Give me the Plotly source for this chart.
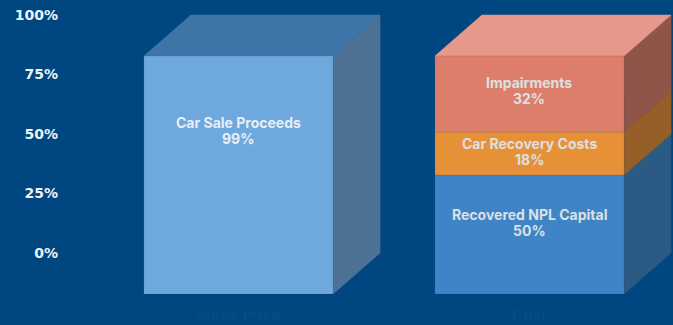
import plotly.graph_objects as go

# Stacks of the 100% chart, bottom to top
categories = ["Sales Price", "Cost"]
sales_labels = ["Car Sale Proceeds"]
sales_values = [99]
cost_labels = ["Recovered NPL Capital", "Car Recovery Costs", "Impairments"]
cost_values = [50, 18, 32]
y_ticks = [0, 25, 50, 75, 100]
y_tick_labels = ["0%", "25%", "50%", "75%", "100%"]

BG = "#004680"
# (front, top, side) shades per segment
SALES_SHADES = [("#6fa8dc", "#3e75a9", "#4e7196")]
COST_SHADES = [
    ("#3f84c7", "#3f84c7", "#2b5a85"),
    ("#e69138", "#e69138", "#955f27"),
    ("#dd7e6b", "#e6998a", "#8f5548"),
]
EDGE = "rgba(0,70,128,0.12)"

BAR_WIDTH = 0.65
DEPTH_X = 0.1615   # oblique offset of the back face, category units
DEPTH_Y = 17.2     # oblique offset of the back face, percent units
LINE_GAP = 8       # half the distance between the two label lines, px

# Height of the labels inside each stack, as a share of the segment
LABEL_SHIFT = {"Car Sale Proceeds": 0.685, "Recovered NPL Capital": 0.597,
               "Car Recovery Costs": 0.54, "Impairments": 0.55}

fig = go.Figure()


def poly(xs, ys, color, edge=None):
    fig.add_trace(go.Scatter(
        x=xs + xs[:1], y=ys + ys[:1], mode="lines", fill="toself",
        fillcolor=color, line=dict(color=edge or color, width=1 if edge else 0.5),
        hoverinfo="skip", showlegend=False))


def stack(pos, labels, values, shades, text_color):
    total = sum(values)
    x0, x1 = pos - BAR_WIDTH / 2, pos + BAR_WIDTH / 2
    base = 0
    annos = []
    for i, (name, val, (front, top, side)) in enumerate(zip(labels, values, shades)):
        # each stack fills the full 100% height
        h = val * 100 / total
        y0, y1 = base, base + h
        poly([x1, x1 + DEPTH_X, x1 + DEPTH_X, x1],
             [y0, y0 + DEPTH_Y, y1 + DEPTH_Y, y1], side)
        if i == len(values) - 1:
            poly([x0, x1, x1 + DEPTH_X, x0 + DEPTH_X],
                 [y1, y1, y1 + DEPTH_Y, y1 + DEPTH_Y], top)
        poly([x0, x1, x1, x0], [y0, y0, y1, y1], front, EDGE)
        annos.append((pos, y0 + h * LABEL_SHIFT[name], name, f"{val}%", text_color))
        base = y1
    return annos


labels = stack(0, sales_labels, sales_values, SALES_SHADES, "#e8eef5")
labels += stack(1, cost_labels, cost_values, COST_SHADES, "#dce0e3")

for x, y, name, pct, color in labels:
    label_font = dict(family="Inter", size=14, color=color, weight=700)
    fig.add_annotation(x=x, y=y, text=name, showarrow=False, yshift=LINE_GAP,
                       font=label_font)
    fig.add_annotation(x=x, y=y, text=pct, showarrow=False, yshift=-LINE_GAP,
                       font=label_font)

fig.update_layout(
    width=673, height=325, autosize=False,
    paper_bgcolor=BG, plot_bgcolor=BG,
    margin=dict(l=62, r=0, t=0, b=25),
    showlegend=False,
    xaxis=dict(
        range=[-0.6065, 1.4932], tickvals=[0, 1], ticktext=categories,
        showgrid=False, zeroline=False, showline=False, ticks="",
        ticklabelstandoff=4,
        tickfont=dict(family="DejaVu Sans", size=15.5, color="#0a4c8a"),
    ),
    yaxis=dict(
        range=[-2.52, 123.5],
        # the value scale is read along the back wall
        tickvals=[t + DEPTH_Y for t in y_ticks], ticktext=y_tick_labels,
        showgrid=False, zeroline=False, showline=False, ticks="",
        ticklabelstandoff=3,
        tickfont=dict(family="DejaVu Sans", size=14, color="#eef2f6", weight=700),
    ),
)

fig.write_html("out.html")
